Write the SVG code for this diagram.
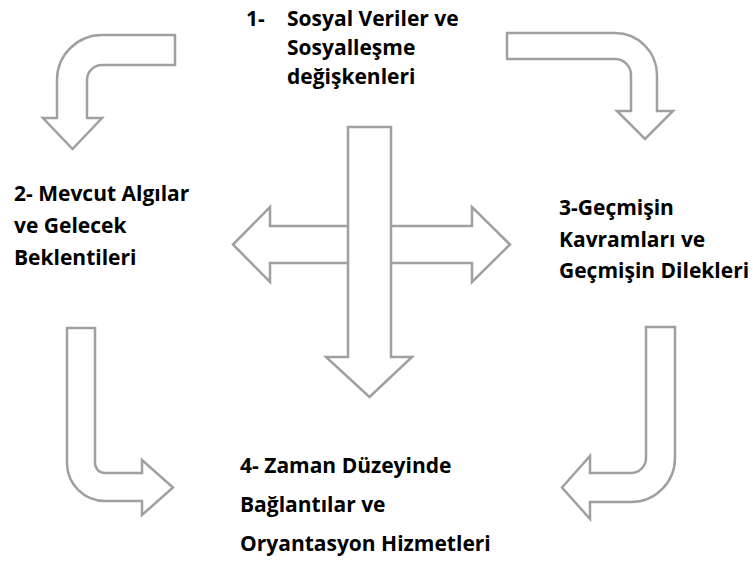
<svg xmlns="http://www.w3.org/2000/svg" width="753" height="576" viewBox="0 0 753 576">
<style>
.t{font-family:"Open Sans","Liberation Sans",sans-serif;font-weight:bold;font-size:21px;fill:#000}
.a{fill:#fff;stroke:#a0a0a0;stroke-width:2.5;stroke-linejoin:miter}
</style>
<rect width="753" height="576" fill="#fff"/>
<g id="connectors">
<path class="a" d="M175,35 H102 A45,45 0 0 0 57,80 V118 H43 L72.5,149 L102,118 H87 V80 A15,15 0 0 1 102,65 H175 Z"/>
<path class="a" d="M507,33 H615 A42,42 0 0 1 657,75 V111 H673 L645,139 L617,111 H631 V75 A16,16 0 0 0 615,59 H507 Z"/>
<path class="a" d="M67,328 V463 A38,38 0 0 0 105,501 H142 V515 L173,487.5 L142,460 V473 H105 A10,10 0 0 1 95,463 V328 Z"/>
<path class="a" d="M675,327 V458 A44,44 0 0 1 631,502 H590 V519 L562,487.5 L590,456 V473 H631 A15,15 0 0 0 646,458 V327 Z"/>
<path class="a" d="M233,244.5 L270,207 V226 H472 V207 L510,244.5 L472,282 V263 H270 V282 Z"/>
<path class="a" d="M348,127 H391 V357 H412 L369.5,397 L326,357 H348 Z"/>
</g>
<g id="node1">
<text class="t" x="246" y="26">1-</text>
<text class="t" x="287" y="26">Sosyal Veriler ve</text>
<text class="t" x="287" y="55">Sosyalleşme</text>
<text class="t" x="287" y="84">değişkenleri</text>
</g>
<g id="node2">
<text class="t" x="14" y="201">2- Mevcut Algılar</text>
<text class="t" x="14" y="233">ve Gelecek</text>
<text class="t" x="14" y="265">Beklentileri</text>
</g>
<g id="node3">
<text class="t" x="559" y="215">3-Geçmişin</text>
<text class="t" x="559" y="247">Kavramları ve</text>
<text class="t" x="559" y="278">Geçmişin Dilekleri</text>
</g>
<g id="node4">
<text class="t" x="240" y="473">4- Zaman Düzeyinde</text>
<text class="t" x="240" y="512">Bağlantılar ve</text>
<text class="t" x="240" y="551">Oryantasyon Hizmetleri</text>
</g>
</svg>
